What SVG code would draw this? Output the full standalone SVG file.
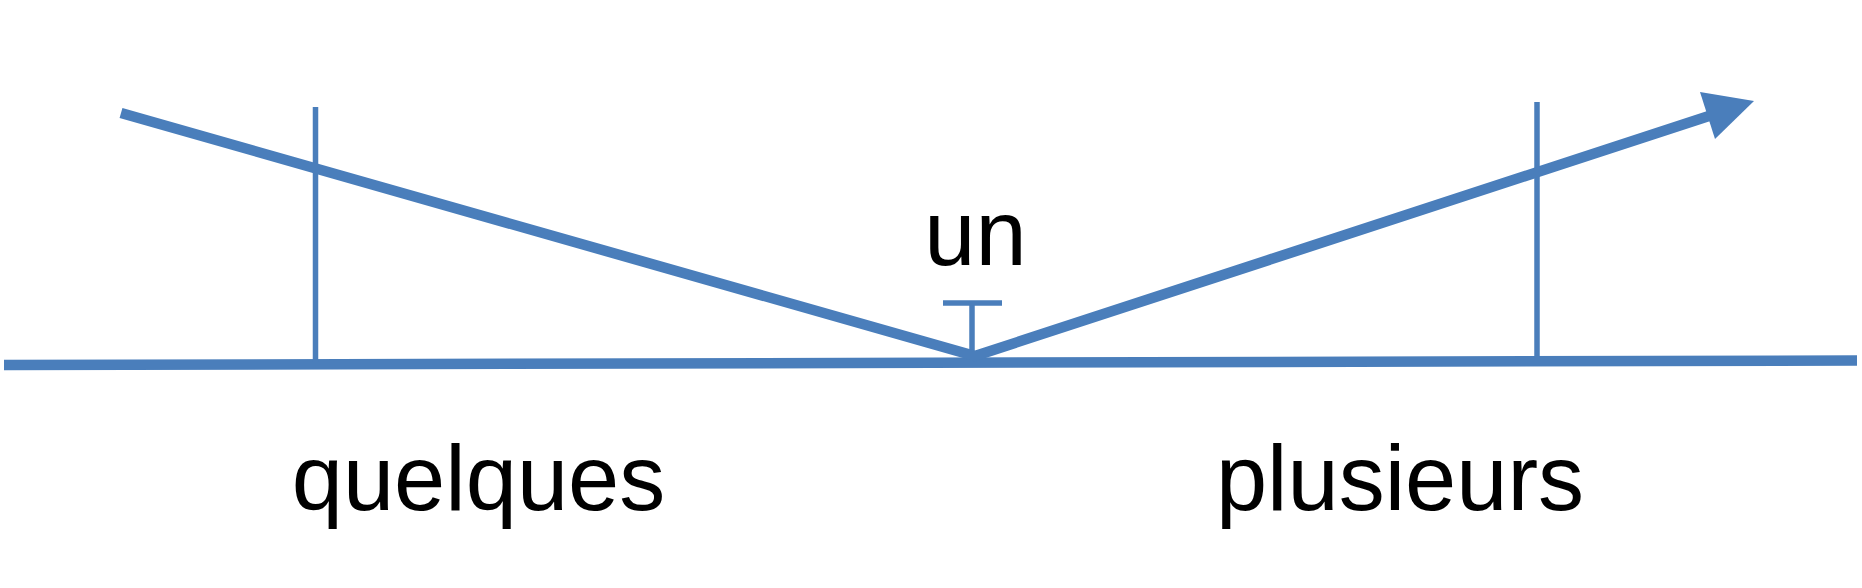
<svg xmlns="http://www.w3.org/2000/svg" width="1862" height="588" viewBox="0 0 1862 588">
  <defs>
    <style>
      .thick { stroke: #4a7ebb; stroke-width: 10.5; fill: none; }
      .thin { stroke: #4a7ebb; stroke-width: 5.5; fill: none; }
      .head { fill: #4a7ebb; stroke: none; }
      .lbl { font-family: "Liberation Sans", Arial, sans-serif; font-size: 92px; fill: #000; text-anchor: middle; }
    </style>
  </defs>
  <rect width="1862" height="588" fill="#fff"/>
  <g id="connectors">
    <line class="thick" x1="4" y1="365" x2="1857" y2="360.5"/>
    <line class="thin" x1="315.5" y1="107" x2="315.5" y2="362"/>
    <line class="thin" x1="1537" y1="102" x2="1537" y2="358"/>
    <line class="thin" x1="972" y1="303" x2="972" y2="356"/>
    <line class="thin" x1="943" y1="303" x2="1002" y2="303"/>
    <polyline class="thick" points="121,113 975,356 1712,115"/>
    <polygon class="head" points="1700,92 1754,101 1715,139"/>
  </g>
  <g id="label-un"><text class="lbl" x="975.5" y="265">un</text></g>
  <g id="label-quelques"><text class="lbl" x="478.5" y="510">quelques</text></g>
  <g id="label-plusieurs"><text class="lbl" x="1400" y="510">plusieurs</text></g>
</svg>
